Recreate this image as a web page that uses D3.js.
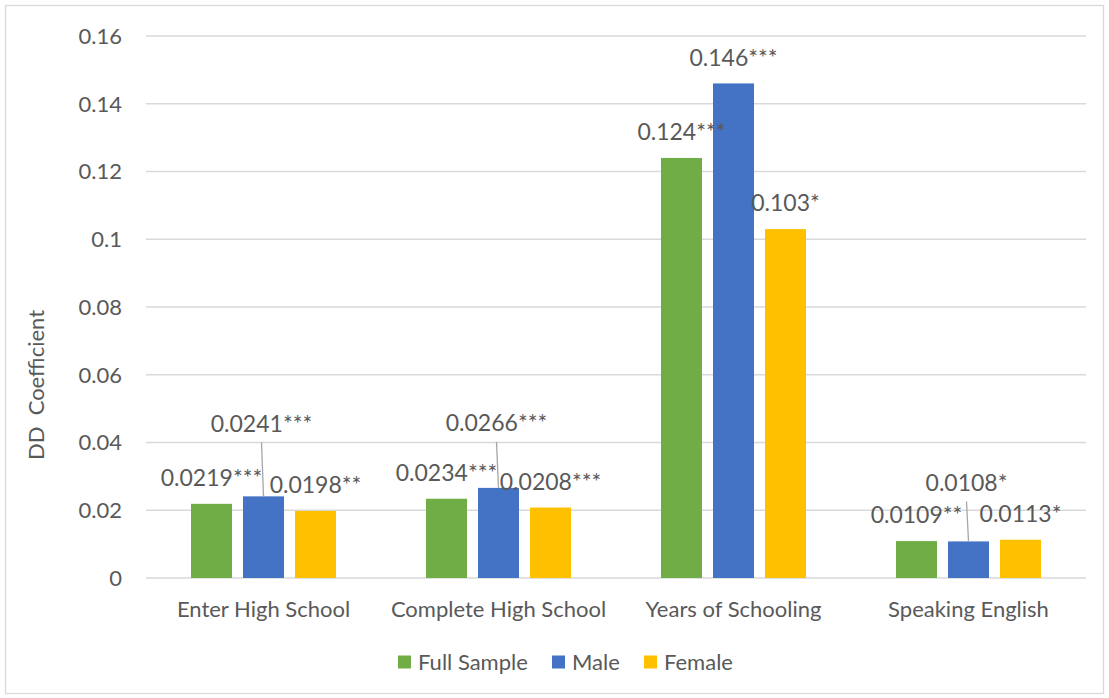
<!DOCTYPE html>
<html><head><meta charset="utf-8">
<script src="https://cdn.jsdelivr.net/npm/d3@7"></script>
<style>
html,body{margin:0;padding:0;background:#fff;}
svg text{font-family:Lato, "Open Sans", sans-serif; fill:#595959;}
</style></head>
<body>
<svg id="chart" width="1109" height="698"></svg>
<script>
const categories = ["Enter High School","Complete High School","Years of Schooling","Speaking English"];
const seriesNames = ["Full Sample","Male","Female"];
const fullSample = [0.0219, 0.0234, 0.124, 0.0109];
const male = [0.0241, 0.0266, 0.146, 0.0108];
const female = [0.0198, 0.0208, 0.103, 0.0113];
const fullSampleLabels = ["0.0219***","0.0234***","0.124***","0.0109**"];
const maleLabels = ["0.0241***","0.0266***","0.146***","0.0108*"];
const femaleLabels = ["0.0198**","0.0208***","0.103*","0.0113*"];
const yTicks = [0,0.02,0.04,0.06,0.08,0.1,0.12,0.14,0.16];
const yTickLabels = ["0","0.02","0.04","0.06","0.08","0.1","0.12","0.14","0.16"];

(function(){
// layout (not data)
const colors = ["#70AD47","#4472C4","#FFC000"];
// extra upward shift of labels that were moved in the original (with leader lines)
const labelLift = [[0,47,0],[0,39,0],[0,0,0],[0,33,0]];

const svg = d3.select("#chart");
const mLeft = 146, mRight = 1086, mTop = 36, mBottom = 578;

svg.append("rect").attr("x",5.5).attr("y",5.5).attr("width",1098).attr("height",688)
  .attr("fill","#fff").attr("stroke","#d9d9d9").attr("stroke-width",1.3);

const y = d3.scaleLinear().domain([0,0.16]).range([mBottom, mTop]);
const x0 = d3.scaleBand().domain(categories).range([mLeft,mRight]).paddingInner(0).paddingOuter(0);
const x1 = d3.scaleBand().domain(seriesNames).range([0, x0.bandwidth()]).paddingInner(0.2115).paddingOuter(0.865);

// gridlines
svg.append("g").selectAll("line").data(yTicks).join("line")
  .attr("x1",mLeft).attr("x2",mRight)
  .attr("y1",d=>y(d)).attr("y2",d=>y(d))
  .attr("stroke","#d9d9d9").attr("stroke-width",1.3);

// y tick labels
svg.append("g").selectAll("text").data(yTicks).join("text")
  .attr("x",122).attr("y",d=>y(d)).attr("dy","0.36em")
  .attr("text-anchor","end").style("font-size","22px")
  .text((d,i)=>yTickLabels[i]);

// y title
svg.append("text").attr("transform","translate(44,385) rotate(-90)")
  .attr("text-anchor","middle").style("font-size","22px").style("white-space","pre")
  .attr("xml:space","preserve")
  .text("DD  Coefficient");

const seriesVals = [fullSample, male, female];
const seriesLabels = [fullSampleLabels, maleLabels, femaleLabels];
const rows = [];
categories.forEach((c,ci)=>{
  seriesNames.forEach((s,si)=>{
    rows.push({c, ci, s, si, v: seriesVals[si][ci], label: seriesLabels[si][ci]});
  });
});

// bars
svg.append("g").selectAll("rect").data(rows).join("rect")
  .attr("x",d=>x0(d.c)+x1(d.s))
  .attr("width",x1.bandwidth())
  .attr("y",d=>y(d.v))
  .attr("height",d=>y(0)-y(d.v))
  .attr("fill",d=>colors[d.si]);

// leader lines
svg.append("g").selectAll("line").data(rows.filter(d=>labelLift[d.ci][d.si]>0)).join("line")
  .attr("x1",d=>x0(d.c)+x1(d.s)+x1.bandwidth()/2 - 2)
  .attr("x2",d=>x0(d.c)+x1(d.s)+x1.bandwidth()/2)
  .attr("y1",d=>y(d.v)-26-labelLift[d.ci][d.si]+19)
  .attr("y2",d=>y(d.v))
  .attr("stroke","#a6a6a6").attr("stroke-width",1.3);

// data labels
svg.append("g").selectAll("text").data(rows).join("text")
  .attr("x",d=>x0(d.c)+x1(d.s)+x1.bandwidth()/2 - (labelLift[d.ci][d.si]>0?2:0))
  .attr("y",d=>y(d.v)-26-labelLift[d.ci][d.si])
  .attr("dy","0.36em").attr("text-anchor","middle")
  .style("font-size","23px")
  .text(d=>d.label);

// category labels
svg.append("g").selectAll("text").data(categories).join("text")
  .attr("x",d=>x0(d)+x0.bandwidth()/2).attr("y",609).attr("dy","0.36em")
  .attr("text-anchor","middle").style("font-size","22px")
  .text(d=>d);

// legend
const legendX = [398, 552, 644];
const lg = svg.append("g").selectAll("g").data(seriesNames).join("g")
  .attr("transform",(d,i)=>`translate(${legendX[i]},662)`);
lg.append("rect").attr("x",0).attr("y",-6.5).attr("width",13).attr("height",13).attr("fill",(d,i)=>colors[i]);
lg.append("text").attr("x",20).attr("y",0).attr("dy","0.36em").style("font-size","22px").text(d=>d);
})();
</script>
</body></html>
